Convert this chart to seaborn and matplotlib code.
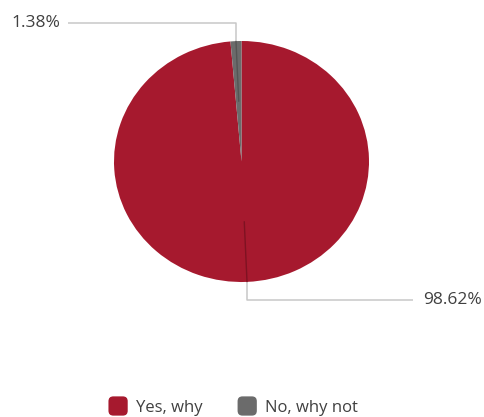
import numpy as np
import matplotlib
matplotlib.use("Agg")
import matplotlib.pyplot as plt
from matplotlib.patches import FancyBboxPatch
from matplotlib.legend_handler import HandlerPatch
import seaborn as sns

categories = ["Yes, why", "No, why not"]
shares = [98.62, 1.38]
value_labels = ["98.62%", "1.38%"]

sns.set_theme(style="white")
plt.rcParams["font.family"] = ["Open Sans", "DejaVu Sans"]
palette = sns.color_palette(["#A6192E", "#6B6B6B"])
inner_line_colors = ["#7E1222", "#555555"]
text_color = "#404040"

W, H = 485, 417
fig = plt.figure(figsize=(W / 100, H / 100), dpi=100)
ax = fig.add_axes([0, 0, 1, 1])

# pixel layout of the pie (slightly wider than tall)
cx, cy, rx, ry = 241.5, 161.5, 127.5, 120.5

wedges, _ = ax.pie(shares, colors=palette, startangle=90, counterclock=False,
                   radius=1, center=(0, 0), wedgeprops=dict(linewidth=0))
ax.set_aspect("auto")
ax.set_xlim((0 - cx) / rx, (W - cx) / rx)
ax.set_ylim((cy - H) / ry, (cy - 0) / ry)
ax.axis("off")


def px_x(x):
    return (x - cx) / rx


def px_y(y):
    return (cy - y) / ry


line_kw = dict(color="#C8C8C8", lw=1.1, solid_capstyle="butt", zorder=3)
label_kw = dict(fontsize=12.5, color=text_color, va="center")

# (label row in px, end of horizontal run in px, text anchor in px, alignment)
placements = {
    0: (300, 413, 423, "left"),
    1: (23, 68, 60, "right"),
}

for i, w in enumerate(wedges):
    mid = np.deg2rad((w.theta1 + w.theta2) / 2)
    x0, y0 = 0.5 * np.cos(mid), 0.5 * np.sin(mid)
    x1, y1 = np.cos(mid), np.sin(mid)
    row, xend, xtext, ha = placements[i]
    yrow = px_y(row)
    ax.plot([x0, x1], [y0, y1], color=inner_line_colors[i], lw=1.0, zorder=3)
    ax.plot([x1, x1, px_x(xend)], [y1, yrow, yrow], **line_kw)
    ax.text(px_x(xtext), yrow, value_labels[i], ha=ha, **label_kw)


class RoundedSwatch(HandlerPatch):
    def create_artists(self, legend, orig_handle, xdescent, ydescent,
                       width, height, fontsize, trans):
        side = min(width, height)
        x = -xdescent + (width - side) / 2
        y = -ydescent + (height - side) / 2
        p = FancyBboxPatch((x, y), side, side,
                           boxstyle="round,pad=0,rounding_size=3.5",
                           facecolor=orig_handle.get_facecolor(),
                           edgecolor="none", transform=trans)
        return [p]


leg = fig.legend(wedges, categories, loc="center", ncol=2,
                 bbox_to_anchor=(232 / W, 1 - 406 / H), frameon=False,
                 fontsize=12, handlelength=1.4, handleheight=1.4,
                 handletextpad=0.35, columnspacing=2.0,
                 handler_map={type(wedges[0]): RoundedSwatch()})
for t in leg.get_texts():
    t.set_color(text_color)

fig.savefig("out.png", dpi=100, facecolor="white")
